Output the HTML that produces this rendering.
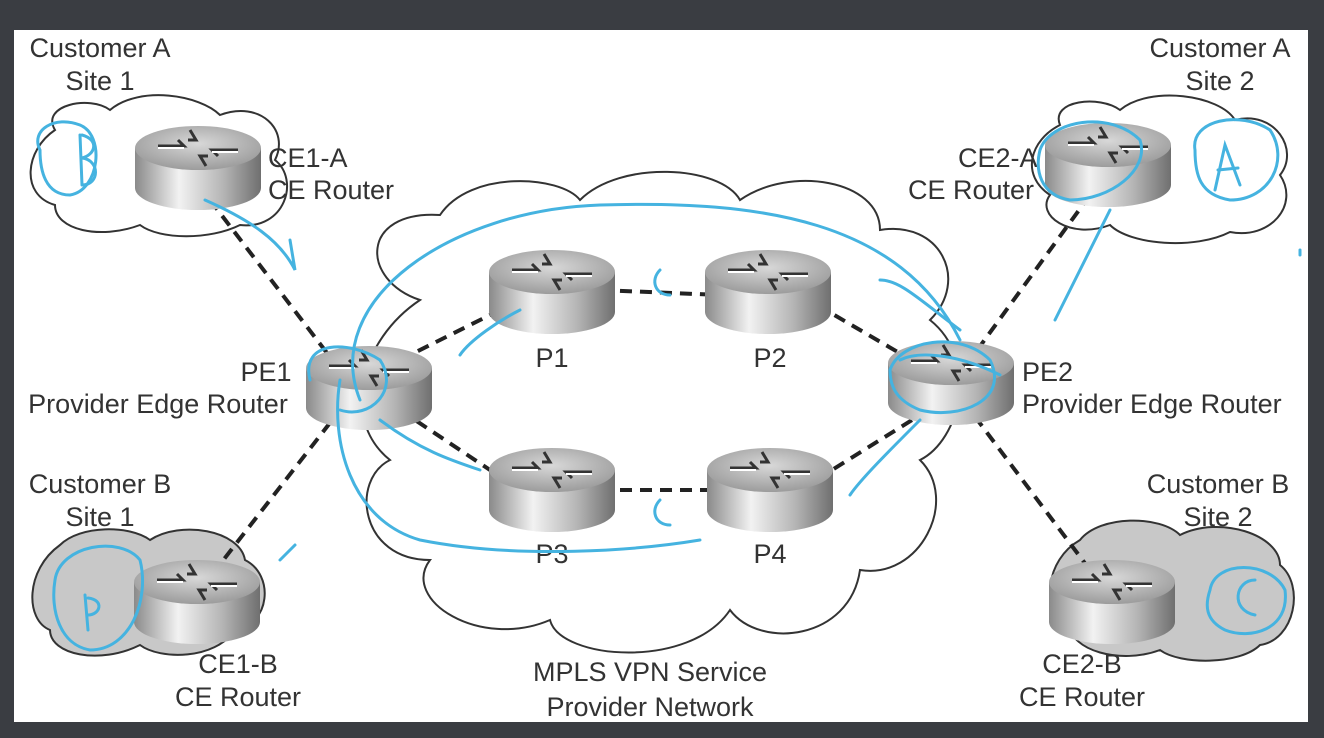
<!DOCTYPE html>
<html><head><style>
html,body{margin:0;padding:0;background:#3a3d42;width:1324px;height:738px;overflow:hidden}
svg{display:block}
text{font-family:"Liberation Sans",sans-serif;font-size:27px;fill:#333}
</style></head><body>
<svg width="1324" height="738" viewBox="0 0 1324 738" xmlns="http://www.w3.org/2000/svg">
<defs>
<linearGradient id="side" x1="0" x2="1" y1="0" y2="0">
<stop offset="0" stop-color="#8a8a8a"/><stop offset="0.35" stop-color="#f2f2f2"/><stop offset="0.7" stop-color="#b5b5b5"/><stop offset="1" stop-color="#6f6f6f"/>
</linearGradient>
<radialGradient id="top" cx="0.5" cy="0.4" r="0.6">
<stop offset="0" stop-color="#d8d8d8"/><stop offset="1" stop-color="#9c9c9c"/>
</radialGradient>
<g id="router">
<path d="M-63,0 L-63,40 A63,22 0 0 0 63,40 L63,0 Z" fill="url(#side)"/>
<ellipse cx="0" cy="0" rx="63" ry="22" fill="url(#top)"/>
<g stroke="#333" stroke-width="3" fill="none">
<path d="M-40,-2 L-14,-2 L-20,-8"/><path d="M40,2 L14,2 L20,8"/>
<path d="M-8,-18 L-2,-8 L-10,-8"/><path d="M8,18 L2,8 L10,8"/>
</g>
<g stroke="#fff" stroke-width="2" fill="none">
<path d="M-40,0 L-14,0"/><path d="M40,4 L14,4"/>
</g>
</g>
</defs>
<rect x="14" y="30" width="1294" height="692" fill="#fff"/>
<g stroke="#333" stroke-width="2">
<path fill="#fff" d="M420,300 C360,280 360,210 440,215 C470,170 560,175 580,200 C620,160 720,165 740,200 C790,165 880,180 880,230 C940,220 970,280 930,320 C980,360 960,440 920,460 C960,500 920,580 860,570 C850,640 760,650 730,610 C690,670 560,660 550,620 C480,650 400,600 430,560 C360,560 350,480 390,460 C340,420 360,340 420,300 Z"/>
<path fill="#fff" d="M55,130 C40,105 90,95 110,110 C140,85 200,95 220,115 C260,100 290,130 275,160 C300,180 285,230 240,225 C210,240 160,240 140,225 C100,240 55,230 55,205 C20,195 25,150 55,130 Z"/>
<path fill="#fff" d="M1060,125 C1050,100 1100,95 1120,110 C1150,85 1220,95 1235,120 C1275,110 1300,150 1280,175 C1300,205 1270,240 1230,232 C1195,250 1130,245 1110,225 C1070,240 1035,215 1050,195 C1020,175 1030,140 1060,125 Z"/>
<path fill="#c8c8c8" d="M60,545 C80,525 130,525 150,540 C180,520 240,530 245,560 C275,575 270,625 235,630 C215,660 160,660 140,645 C100,665 50,655 50,630 C25,620 25,570 60,545 Z"/>
<path fill="#c8c8c8" d="M1080,540 C1100,515 1160,515 1180,535 C1220,515 1280,535 1280,565 C1305,585 1295,640 1260,645 C1240,665 1180,665 1160,650 C1120,665 1070,650 1070,625 C1040,610 1045,560 1080,540 Z"/>
</g>
<g stroke="#222" stroke-width="4" stroke-dasharray="12,8" fill="none">
<line x1="210" y1="200" x2="340" y2="370"/>
<line x1="200" y1="590" x2="340" y2="410"/>
<line x1="400" y1="360" x2="520" y2="300"/>
<line x1="400" y1="410" x2="520" y2="490"/>
<line x1="600" y1="290" x2="720" y2="295"/>
<line x1="600" y1="490" x2="720" y2="490"/>
<line x1="800" y1="295" x2="920" y2="365"/>
<line x1="800" y1="490" x2="920" y2="415"/>
<line x1="1090" y1="195" x2="970" y2="360"/>
<line x1="1090" y1="570" x2="970" y2="410"/>
</g>
<use href="#router" x="198" y="148"/>
<use href="#router" x="1108" y="145"/>
<use href="#router" x="369" y="368"/>
<use href="#router" x="951" y="363"/>
<use href="#router" x="552" y="272"/>
<use href="#router" x="768" y="272"/>
<use href="#router" x="552" y="470"/>
<use href="#router" x="770" y="470"/>
<use href="#router" x="197" y="582"/>
<use href="#router" x="1112" y="582"/>
<text x="100" y="57" text-anchor="middle">Customer A</text><text x="100" y="90" text-anchor="middle">Site 1</text>
<text x="1220" y="57" text-anchor="middle">Customer A</text><text x="1220" y="90" text-anchor="middle">Site 2</text>
<text x="100" y="493" text-anchor="middle">Customer B</text><text x="100" y="526" text-anchor="middle">Site 1</text>
<text x="1218" y="493" text-anchor="middle">Customer B</text><text x="1218" y="526" text-anchor="middle">Site 2</text>
<text x="268" y="167">CE1-A</text><text x="268" y="199">CE Router</text>
<text x="958" y="167">CE2-A</text><text x="908" y="199">CE Router</text>
<text x="266" y="381" text-anchor="middle">PE1</text><text x="158" y="413" text-anchor="middle">Provider Edge Router</text>
<text x="1022" y="381">PE2</text><text x="1022" y="413">Provider Edge Router</text>
<text x="552" y="367" text-anchor="middle">P1</text><text x="770" y="367" text-anchor="middle">P2</text>
<text x="552" y="563" text-anchor="middle">P3</text><text x="770" y="563" text-anchor="middle">P4</text>
<text x="238" y="673" text-anchor="middle">CE1-B</text><text x="238" y="706" text-anchor="middle">CE Router</text>
<text x="1082" y="673" text-anchor="middle">CE2-B</text><text x="1082" y="706" text-anchor="middle">CE Router</text>
<text x="650" y="681" text-anchor="middle">MPLS VPN Service</text><text x="650" y="716" text-anchor="middle">Provider Network</text>
<g stroke="#45b3e0" stroke-width="3" fill="none" stroke-linecap="round">
<path d="M40,150 C30,130 55,115 80,125 C105,135 100,190 70,195 C45,195 40,170 40,150"/>
<path d="M80,135 L82,185 M82,135 C100,140 95,155 82,158 C100,160 100,185 82,185"/>
<path d="M205,200 C250,220 280,240 295,270 L290,240"/>
<path d="M360,400 C320,300 450,210 600,205 C760,200 900,220 960,340"/>
<path d="M340,380 C330,440 350,520 420,540 C520,560 640,550 700,540"/>
<path d="M310,380 C300,340 350,340 380,360 C400,390 370,420 340,410"/>
<path d="M380,420 C420,450 450,460 480,470"/>
<path d="M520,310 C500,320 470,340 460,355"/>
<path d="M890,370 C900,340 960,330 990,360 C1010,400 960,420 920,410 C895,400 890,385 890,370"/>
<path d="M900,360 C920,350 960,355 1000,375"/>
<path d="M960,330 C920,300 900,280 880,280"/>
<path d="M920,420 C890,450 860,480 850,495"/>
<path d="M1110,210 C1090,250 1070,290 1055,320"/>
<path d="M1040,150 C1050,120 1110,110 1140,140 C1150,170 1110,200 1070,200 C1040,195 1035,170 1040,150"/>
<path d="M1195,150 C1190,120 1240,110 1270,130 C1290,160 1270,200 1230,200 C1200,195 1195,175 1195,150"/>
<path d="M1215,190 L1225,145 L1240,185 M1218,170 L1238,168"/>
<path d="M55,580 C60,545 120,535 140,560 C150,600 130,650 90,650 C60,645 50,610 55,580"/>
<path d="M85,595 L88,630 M88,598 C105,600 100,615 88,615"/>
<path d="M1210,590 C1215,560 1270,560 1285,590 C1290,630 1250,640 1225,630 C1205,620 1205,605 1210,590"/>
<path d="M1255,580 C1235,580 1230,610 1255,615"/>
<path d="M660,270 C650,280 655,295 670,295"/>
<path d="M660,500 C650,510 655,525 670,525"/>
<path d="M280,560 L295,545"/>
<path d="M1300,250 L1300,255"/>
</g>
</svg>
</body></html>
